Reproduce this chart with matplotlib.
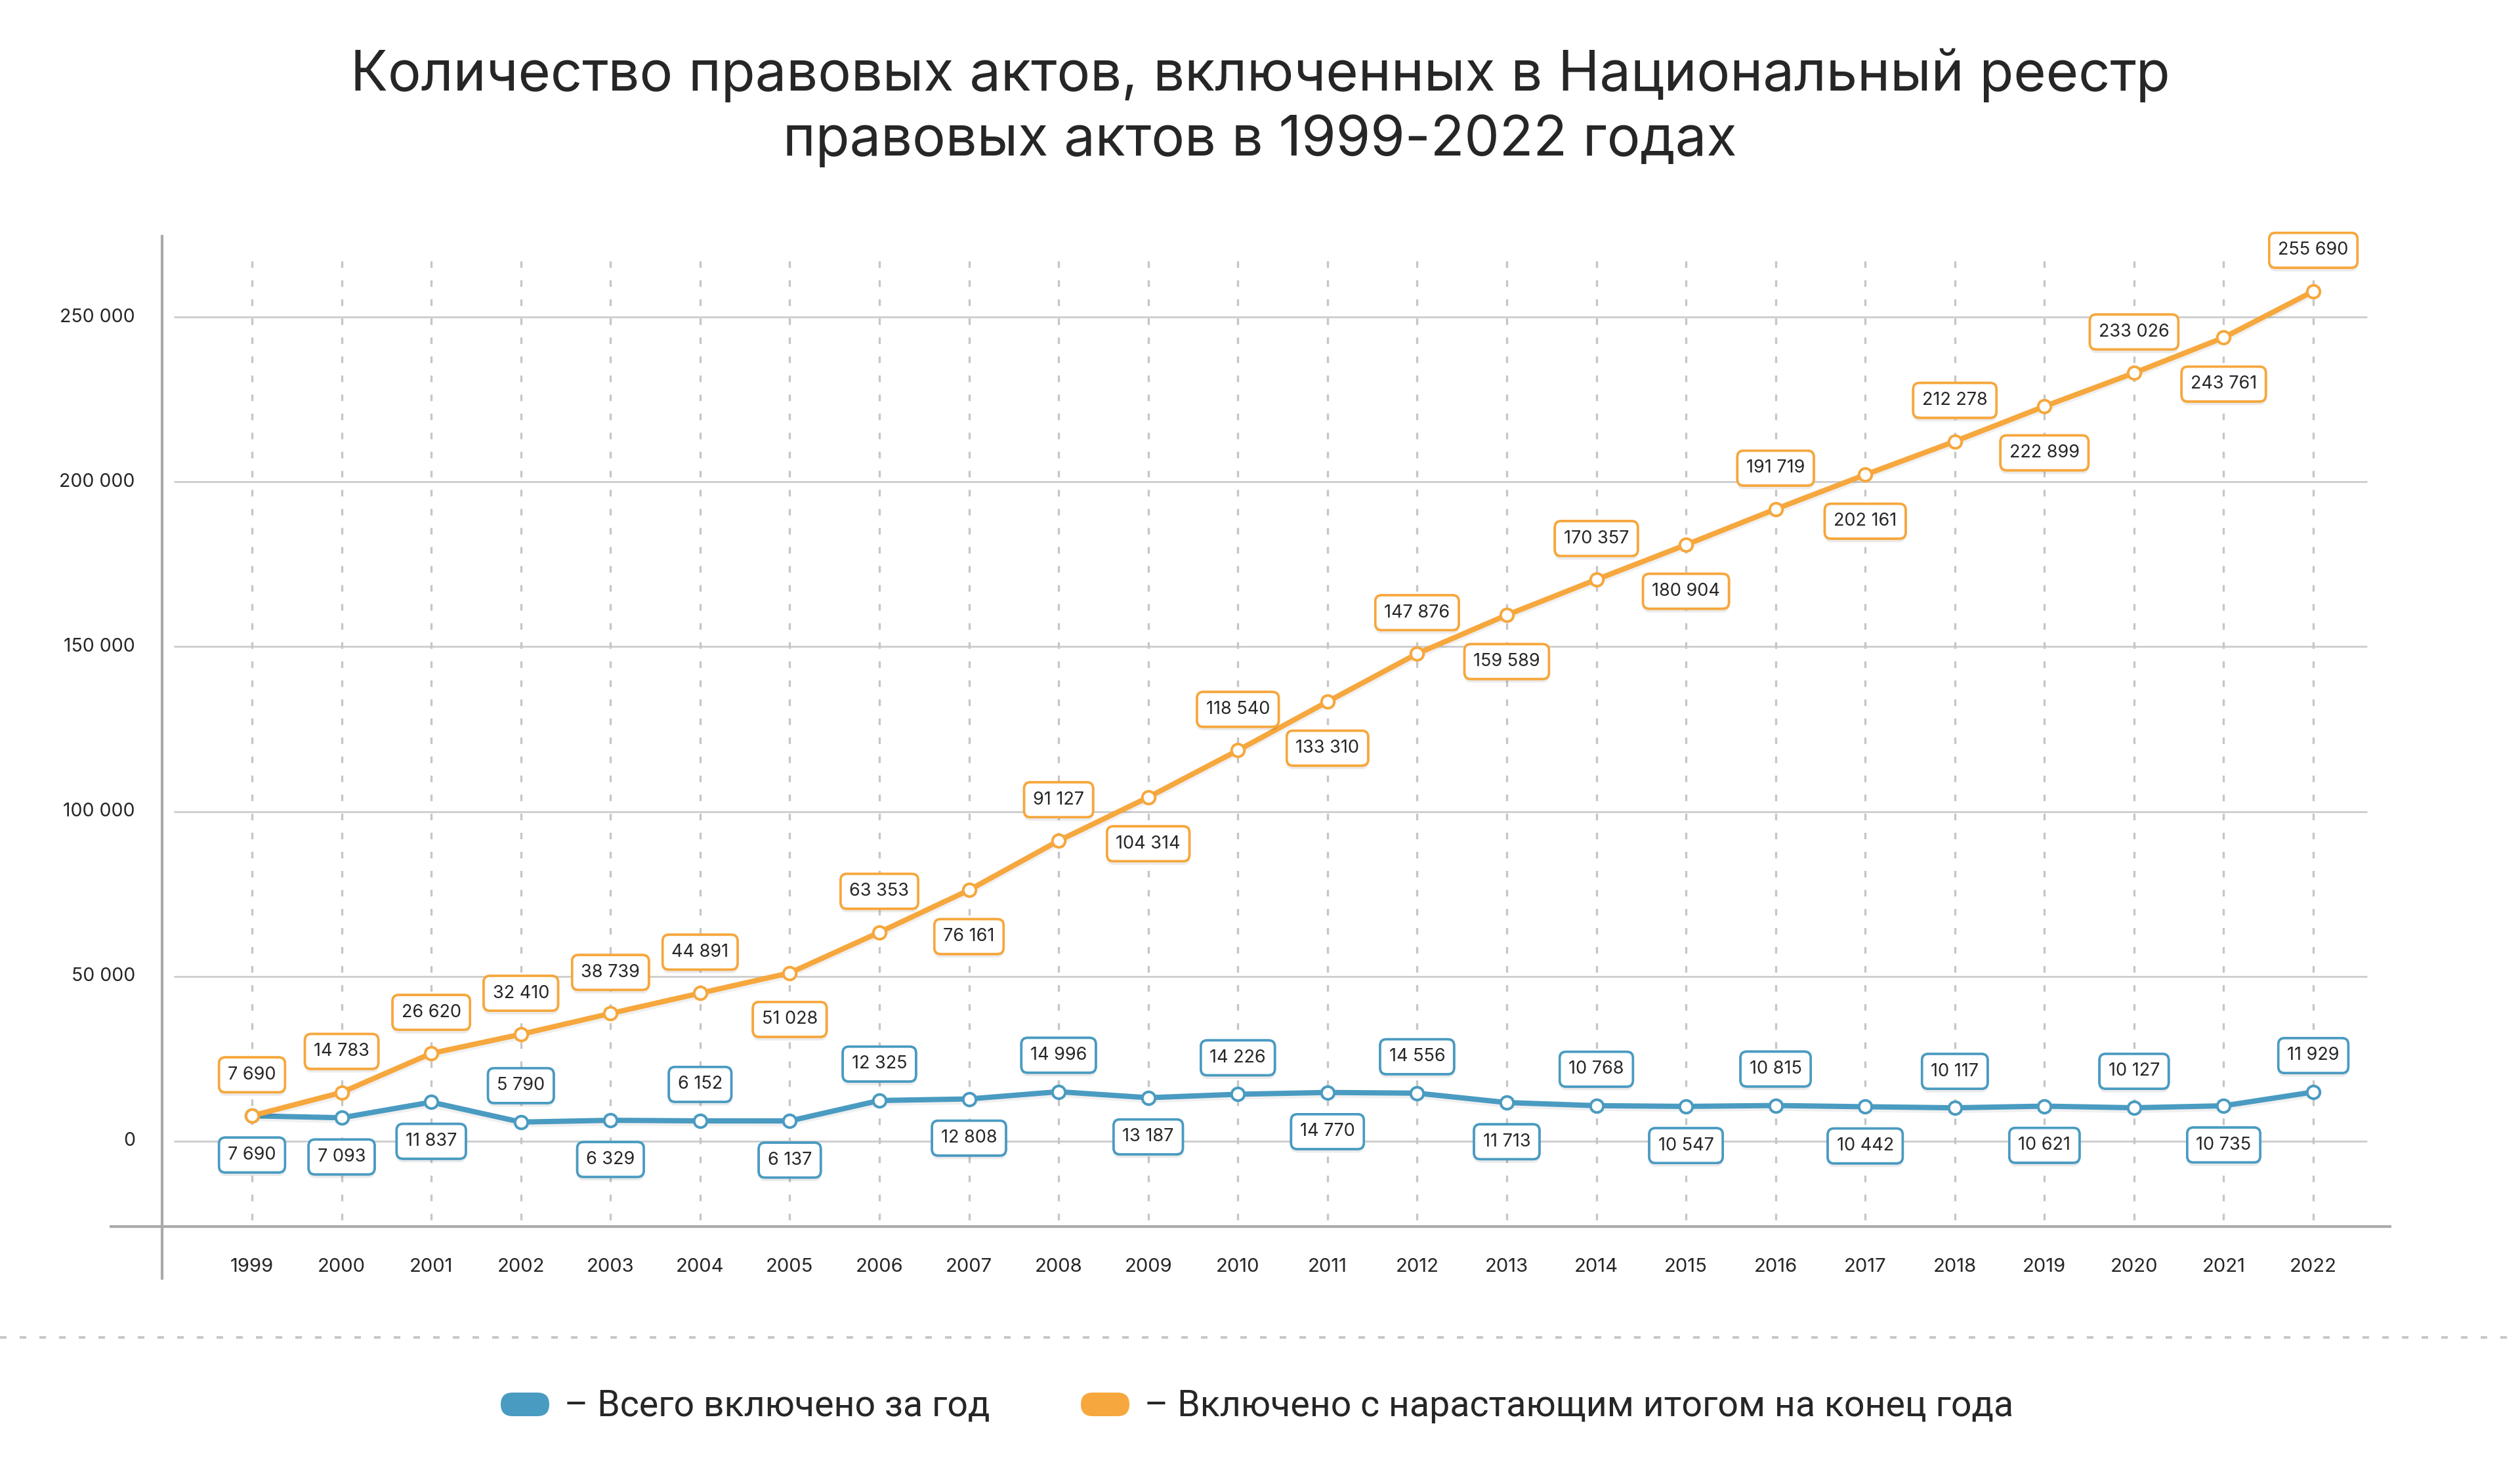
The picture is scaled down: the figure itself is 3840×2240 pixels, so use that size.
import matplotlib
matplotlib.use("Agg")
import matplotlib.pyplot as plt
import matplotlib.patheffects as pe
from matplotlib.patches import FancyBboxPatch
from matplotlib.lines import Line2D
from matplotlib.transforms import IdentityTransform

# ---------------- data ----------------
years = list(range(1999, 2023))
annual_labels = [7690, 7093, 11837, 5790, 6329, 6152, 6137, 12325, 12808, 14996, 13187, 14226,
                 14770, 14556, 11713, 10768, 10547, 10815, 10442, 10117, 10621, 10127, 10735, 11929]
# plotted positions (the 2022 point sits higher than its label)
annual_plot = [7690, 7093, 11837, 5790, 6329, 6152, 6137, 12325, 12808, 14996, 13187, 14226,
               14770, 14556, 11713, 10768, 10547, 10815, 10442, 10117, 10621, 10127, 10735, 14900]
cumul_labels = [7690, 14783, 26620, 32410, 38739, 44891, 51028, 63353, 76161, 91127, 104314, 118540,
                133310, 147876, 159589, 170357, 180904, 191719, 202161, 212278, 222899, 233026, 243761, 255690]
cumul_plot = [7690, 14783, 26620, 32410, 38739, 44891, 51028, 63353, 76161, 91127, 104314, 118540,
              133310, 147876, 159589, 170357, 180904, 191719, 202161, 212278, 222899, 233026, 243761, 257800]
# label side: +1 above the point, -1 below
cumul_side = [1, 1, 1, 1, 1, 1, -1, 1, -1, 1, -1, 1, -1, 1, -1, 1, -1, 1, -1, 1, -1, 1, -1, 1]
annual_side = [-1, -1, -1, 1, -1, 1, -1, 1, -1, 1, -1, 1, -1, 1, -1, 1, -1, 1, -1, 1, -1, 1, -1, 1]
yticks = [0, 50000, 100000, 150000, 200000, 250000]

title_lines = ["Количество правовых актов, включенных в Национальный реестр",
               "правовых актов в 1999-2022 годах"]
legend_labels = ["– Всего включено за год", "– Включено с нарастающим итогом на конец года"]

BLUE = "#4a9bc1"
ORANGE = "#f6a73d"
TXT = "#262626"
GRID = "#cccccc"
AXC = "#aaaaaa"

def fmt(v):
    return f"{v:,}".replace(",", " ")

plt.rcParams['lines.scale_dashes'] = False
FONT = ['Inter', 'DejaVu Sans']
plt.rcParams['font.family'] = FONT

W, H = 3840, 2240
fig = plt.figure(figsize=(W / 100, H / 100), dpi=100)
fig.patch.set_facecolor('white')

ax_left, ax_right, ax_top, ax_bot = 167, 3644, 358, 1869
ax = fig.add_axes([ax_left / W, 1 - ax_bot / H, (ax_right - ax_left) / W, (ax_bot - ax_top) / H])
ax.set_xlim(1997.411, 2022.871)
ax.set_ylim(-25900, 274900)
ax.axis('off')

# horizontal gridlines
ax.hlines(yticks, years[0] - 0.87, years[-1] + 0.6, colors=GRID, linewidth=2.0, zorder=1)
# vertical dashed lines
ax.vlines(years, -24000, 268500, colors="#c6c6c6", linewidth=2.4,
          linestyles=[(0, (7.2, 13.7))], zorder=1)
# axis lines
ax.plot([years[0] - 1.587, years[-1] + 0.871], [-25900, -25900], color=AXC, lw=3.0,
        clip_on=False, zorder=2, solid_capstyle='butt')
ax.plot([years[0] - 1.0, years[0] - 1.0], [-42000, 274900], color=AXC, lw=3.0,
        clip_on=False, zorder=2, solid_capstyle='butt')

# y tick labels
for v in yticks:
    ax.annotate(fmt(v), xy=(years[0] - 1.0, v), xytext=(-30, 0), textcoords='offset points',
                ha='right', va='center', fontsize=20.5, color=TXT, annotation_clip=False)
# x tick labels
for yr in years:
    ax.annotate(str(yr), xy=(yr, -25900), xytext=(0, -44), textcoords='offset points',
                ha='center', va='center', fontsize=21, color=TXT, annotation_clip=False)

line_shadow = [pe.SimpleLineShadow(offset=(0, -3), shadow_color='k', alpha=0.06), pe.Normal()]

# series lines
ax.plot(years, annual_plot, color=BLUE, lw=5.8, zorder=3, solid_joinstyle='round',
        path_effects=line_shadow)
ax.plot(years, cumul_plot, color=ORANGE, lw=5.8, zorder=3.2, solid_joinstyle='round',
        path_effects=line_shadow)
ax.plot(years, annual_plot, ls='none', marker='o', ms=14, mfc='white', mec=BLUE, mew=2.9, zorder=4)
ax.plot(years, cumul_plot, ls='none', marker='o', ms=14, mfc='white', mec=ORANGE, mew=2.9, zorder=4.2)

box_shadow = [pe.withSimplePatchShadow(offset=(0, -4), shadow_rgbFace='k', alpha=0.08), pe.Normal()]

def add_labels(vals_plot, vals_lab, sides, color, z, off_up, off_down):
    for yr, vp, vl, s in zip(years, vals_plot, vals_lab, sides):
        dy = off_up if s > 0 else -off_down
        a = ax.annotate(fmt(vl), xy=(yr, vp), xytext=(0, dy), textcoords='offset points',
                        ha='center', va='center', fontsize=19.5, color=TXT, zorder=z,
                        bbox=dict(boxstyle='round,pad=0.5,rounding_size=0.35', fc='white',
                                  ec=color, lw=2.6))
        a.get_bbox_patch().set_path_effects(box_shadow)

add_labels(annual_plot, annual_labels, annual_side, BLUE, 6, 40, 43)
add_labels(cumul_plot, cumul_labels, cumul_side, ORANGE, 6.5, 45, 51)

# title
fig.text(0.5, 1 - 138 / H, title_lines[0], ha='center', va='baseline', fontsize=61, color=TXT)
fig.text(0.5, 1 - 237 / H, title_lines[1], ha='center', va='baseline', fontsize=61, color=TXT)

# separator
fig.add_artist(Line2D([0, 1], [1 - 2038 / H] * 2, transform=fig.transFigure, color="#c8c8c8",
                      lw=2.9, linestyle=(0, (7.2, 14.4)), solid_capstyle='butt'))

# legend
for (px0, tx0), col, lab in zip([(763, 860), (1647, 1744)], [BLUE, ORANGE], legend_labels):
    pill = FancyBboxPatch((px0, H - 2158), 74, 36, boxstyle='round,pad=0,rounding_size=18',
                          transform=IdentityTransform(), fc=col, ec='none')
    fig.add_artist(pill)
    fig.text(tx0 / W, 1 - 2158 / H, lab, ha='left', va='baseline', fontsize=40, color=TXT,
             family=['Roboto', 'DejaVu Sans'])

fig.savefig("out.png", dpi=100, facecolor='white')
